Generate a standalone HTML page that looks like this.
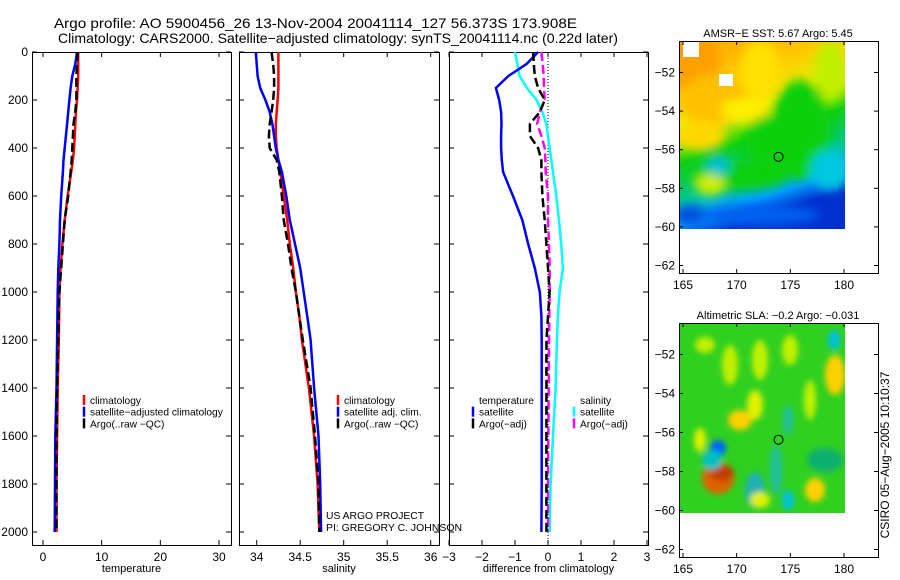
<!DOCTYPE html>
<html><head><meta charset="utf-8"><style>
body{margin:0;background:#fff;}
svg{display:block;font-family:"Liberation Sans",sans-serif;}
</style></head><body>
<svg id="fig" width="900" height="580" viewBox="0 0 900 580">
<defs>
<filter id="blur4" x="-50%" y="-50%" width="200%" height="200%"><feGaussianBlur stdDeviation="5"/></filter>
<filter id="blur2" x="-50%" y="-50%" width="200%" height="200%"><feGaussianBlur stdDeviation="3"/></filter>
<clipPath id="clipM1"><rect x="679" y="41" width="166" height="188"/></clipPath>
<clipPath id="clipM2"><rect x="679" y="323" width="166" height="190"/></clipPath>
<linearGradient id="sstg" x1="0" y1="0" x2="0.3" y2="1">
<stop offset="0" stop-color="#ffa000"/><stop offset="0.25" stop-color="#ffc800"/><stop offset="0.45" stop-color="#e8f000"/><stop offset="0.6" stop-color="#10d010"/><stop offset="0.78" stop-color="#00c890"/><stop offset="0.9" stop-color="#00a0ff"/><stop offset="1" stop-color="#0030d0"/>
</linearGradient>
</defs>
<text x="54" y="28" font-size="14" textLength="523" lengthAdjust="spacingAndGlyphs">Argo profile: AO 5900456_26 13-Nov-2004 20041114_127 56.373S 173.908E</text>
<text x="58" y="43" font-size="14" textLength="560" lengthAdjust="spacingAndGlyphs">Climatology: CARS2000. Satellite−adjusted climatology: synTS_20041114.nc (0.22d later)</text>
<g id="charts"></g>
<g id="maps"></g>
<text transform="translate(889,455) rotate(-90)" font-size="12" text-anchor="middle">CSIRO 05−Aug−2005 10:10:37</text>
</svg>
<script>
const depths=[0,50,100,150,200,250,300,350,400,450,500,600,700,800,900,1000,1100,1200,1400,1600,1800,2000];
const tempClim=[6.0,6.0,6.0,5.9,5.8,5.6,5.5,5.4,5.3,5.1,4.8,4.2,3.7,3.3,3.0,2.8,2.75,2.7,2.5,2.4,2.3,2.3];
const tempSat=[5.8,5.5,5.0,4.7,4.5,4.3,4.1,3.9,3.7,3.5,3.4,3.1,2.9,2.8,2.6,2.5,2.45,2.4,2.3,2.1,2.05,2.0];
const tempArgo=[5.9,5.8,5.7,5.7,5.7,5.5,5.2,5.1,5.0,4.9,4.7,4.3,3.7,3.4,3.1,2.8,2.7,2.6,2.4,2.3,2.3,2.3];
const salClim=[34.25,34.25,34.25,34.25,34.24,34.23,34.22,34.22,34.23,34.25,34.27,34.31,34.35,34.38,34.42,34.45,34.49,34.52,34.6,34.66,34.7,34.72];
const salSat=[33.99,34.0,34.01,34.04,34.1,34.15,34.18,34.2,34.22,34.25,34.29,34.34,34.38,34.44,34.5,34.54,34.58,34.62,34.66,34.71,34.73,34.74];
const salArgo=[34.17,34.19,34.2,34.2,34.19,34.17,34.15,34.14,34.15,34.23,34.26,34.29,34.31,34.36,34.4,34.45,34.49,34.53,34.62,34.67,34.71,34.72];
const dTempSat=[-0.3,-0.65,-1.2,-1.58,-1.48,-1.42,-1.41,-1.42,-1.42,-1.4,-1.36,-1.06,-0.78,-0.6,-0.4,-0.25,-0.2,-0.19,-0.19,-0.19,-0.19,-0.2];
const dTempArgo=[-0.45,-0.43,-0.4,-0.3,-0.1,-0.25,-0.55,-0.55,-0.3,-0.2,-0.2,-0.17,-0.1,-0.05,0,0.05,0,-0.05,-0.05,-0.05,-0.05,-0.05];
const dSalSat=[-1.0,-0.93,-0.86,-0.64,-0.35,-0.17,-0.05,0,0.05,0.1,0.15,0.25,0.33,0.4,0.45,0.35,0.3,0.27,0.23,0.15,0.08,0.05];
const dSalArgo=[-0.2,-0.16,-0.13,-0.12,-0.1,-0.25,-0.33,-0.2,-0.1,-0.08,-0.07,0,0,0.03,0.05,0.05,0.04,0.03,0.02,0.01,0,0];
const depthTicks=[0,200,400,600,800,1000,1200,1400,1600,1800,2000];
const tempTicks=[0,10,20,30];
const salTicks=[34,34.5,35,35.5,36];
const diffTicks=[-3,-2,-1,0,1,2,3];
const lonTicks=[165,170,175,180];
const latTicks=[-52,-54,-56,-58,-60,-62];

const NS='http://www.w3.org/2000/svg';
function mk(tag,attrs,parent){const e=document.createElementNS(NS,tag);for(const k in attrs)e.setAttribute(k,attrs[k]);parent.appendChild(e);return e;}
const charts=document.getElementById('charts');
const yTop=52,yBot=545;
function yD(d){return 52+d*0.24;}

function buildPanel(name,fx0,fx1,ax0,ax1,dmin,dmax,ticks,tickFmt,label,showDepthLabels){
  const g=mk('g',{},charts);
  
  
  const xs=v=>ax0+(v-dmin)/(dmax-dmin)*(ax1-ax0);
  const fr=mk('rect',{x:fx0+0.5,y:yTop+0.5,width:fx1-fx0,height:yBot-yTop,fill:'none',stroke:'#000','stroke-width':1},g);
  
  
  ticks.forEach(t=>{
    const x=xs(t);
    mk('line',{x1:x,x2:x,y1:yBot,y2:yBot-5,stroke:'#000'},g);
    mk('line',{x1:x,x2:x,y1:yTop,y2:yTop+5,stroke:'#000'},g);
    const tl=mk('text',{x:x,y:yBot+16,'font-size':12,'text-anchor':'middle'},g);
    tl.textContent=tickFmt(t);
    
    
  });
  depthTicks.forEach(d=>{
    const y=yD(d);
    mk('line',{x1:fx0,x2:fx0+5,y1:y,y2:y,stroke:'#000'},g);
    mk('line',{x1:fx1,x2:fx1-5,y1:y,y2:y,stroke:'#000'},g);
    if(showDepthLabels){
      const tl=mk('text',{x:fx0-4,y:y+4,'font-size':12,'text-anchor':'end'},g);
      tl.textContent=d;
      
      
    }
  });
  const xl=mk('text',{x:(fx0+fx1)/2,y:572,'font-size':11,'text-anchor':'middle'},g);
  xl.textContent=label;
  
  
  return {g,xs};
}
function series(p,vals,color,dash,name,w){
  const pts=vals.map((v,i)=>p.xs(v).toFixed(1)+','+yD(depths[i]).toFixed(1)).join(' ');
  const l=mk('polyline',{points:pts,fill:'none',stroke:color,'stroke-width':w||2.5},p.g);
  if(dash)l.setAttribute('stroke-dasharray',dash);
  
  
}
function legend(p,x,y,items,name){
  const g=mk('g',{},p.g);
  
  
  items.forEach((it,i)=>{
    const yy=y+i*11.7;
    if(it[1]){mk('line',{x1:x,x2:x,y1:yy-9,y2:yy+1,stroke:it[1],'stroke-width':2.5},g);}
    const t=mk('text',{x:x+6,y:yy,'font-size':10.2},g);
    t.textContent=it[0];
    
    
  });
}
const p1=buildPanel('temperature-panel',32,231,43,219,0,30,tempTicks,t=>t,'temperature',true);
series(p1,tempClim,'#ff0000',null,'temperature-climatology-line');
series(p1,tempSat,'#0000ff',null,'temperature-satellite-line');
series(p1,tempArgo,'#000000','9,4','temperature-argo-line');
legend(p1,84,404,[['climatology','#ff0000'],['satellite−adjusted climatology','#0000ff'],['Argo(..raw −QC)','#000']],'temperature-legend');
const p2=buildPanel('salinity-panel',239,439,256.7,430.7,34,36,salTicks,t=>t,'salinity',false);
series(p2,salClim,'#ff0000',null,'salinity-climatology-line');
series(p2,salSat,'#0000ff',null,'salinity-satellite-line');
series(p2,salArgo,'#000000','9,4','salinity-argo-line');
legend(p2,338,404,[['climatology','#ff0000'],['satellite adj. clim.','#0000ff'],['Argo(..raw −QC)','#000']],'salinity-legend');
const pr=mk('text',{x:326,y:519,'font-size':10.5,textLength:98,lengthAdjust:'spacingAndGlyphs'},p2.g);pr.textContent='US ARGO PROJECT';


const pi=mk('text',{x:326,y:531,'font-size':10.5,textLength:136,lengthAdjust:'spacingAndGlyphs'},p2.g);pi.textContent='PI: GREGORY C. JOHNSON';


const p3=buildPanel('difference-panel',449,648,449,647,-3,3,diffTicks,t=>(t<0?'−'+(-t):t),'difference from climatology',false);
const zl=mk('line',{x1:p3.xs(0),x2:p3.xs(0),y1:yTop,y2:yBot,stroke:'#000','stroke-dasharray':'1,2'},p3.g);


series(p3,dSalSat,'#00ffff',null,'salinity-satellite-diff-line');
series(p3,dTempSat,'#0000ff',null,'temperature-satellite-diff-line');
series(p3,dSalArgo,'#ff00ff','9,4','salinity-argo-diff-line');
series(p3,dTempArgo,'#000000','9,4','temperature-argo-diff-line');
legend(p3,473,404,[['temperature',null],['satellite','#0000ff'],['Argo(−adj)','#000']],'temperature-diff-legend');
legend(p3,574,404,[['salinity',null],['satellite','#00ffff'],['Argo(−adj)','#ff00ff']],'salinity-diff-legend');

const maps=document.getElementById('maps');
function mapFrame(name,top,bot,title,drawFn,clip){
  const g=mk('g',{},maps);
  
  
  const lx=v=>683+(v-165)/15*161;
  const ly=v=>top+31.5+(-52-v)/10*(bot-top-39);
  const ig=mk('g',{'clip-path':'url(#'+clip+')'},g);
  drawFn(ig);
  mk('rect',{x:679.5,y:top+0.5,width:199,height:bot-top,fill:'none',stroke:'#000'},g);
  lonTicks.forEach(v=>{const x=lx(v);
    mk('line',{x1:x,x2:x,y1:bot,y2:bot-4,stroke:'#000'},g);
    mk('line',{x1:x,x2:x,y1:top,y2:top+4,stroke:'#000'},g);
    const t=mk('text',{x:x,y:bot+16,'font-size':12,'text-anchor':'middle'},g);t.textContent=v;
    
    });
  latTicks.forEach(v=>{const y=ly(v);
    mk('line',{x1:679,x2:683,y1:y,y2:y,stroke:'#000'},g);
    mk('line',{x1:878,x2:874,y1:y,y2:y,stroke:'#000'},g);
    const t=mk('text',{x:675,y:y+4,'font-size':12,'text-anchor':'end'},g);t.textContent='−'+(-v);
    
    });
  const tt=mk('text',{x:778,y:top-4,'font-size':11,'text-anchor':'middle'},g);tt.textContent=title;
  
  
  const c=mk('circle',{cx:lx(173.9),cy:ly(-56.37),r:4.5,fill:'none',stroke:'#000'},g);
  
  
  return g;
}
mapFrame('sst-map',41,273,'AMSR−E SST: 5.67 Argo: 5.45',g=>{
  mk('rect',{x:679,y:41,width:166,height:188,fill:'url(#sstg)'},g);
  const b=mk('g',{filter:'url(#blur4)'},g);
  [[690,60,30,30,'#ffa000'],[715,100,35,25,'#ffc000'],[700,135,25,15,'#ffd800'],[760,70,20,30,'#ffe000'],[745,110,25,12,'#ffee00'],[800,130,30,50,'#10d010'],[830,70,16,30,'#c0f000'],[770,140,25,25,'#10d010'],[740,175,50,15,'#10d010'],[718,165,12,10,'#00c0d0'],[710,185,15,10,'#d0f000'],[830,170,20,20,'#00c8e0'],[760,215,60,10,'#0060f0'],[690,215,15,10,'#0050e0']].forEach(e=>mk('ellipse',{cx:e[0],cy:e[1],rx:e[2],ry:e[3],fill:e[4]},b));
  mk('rect',{x:683,y:41,width:16,height:16,fill:'#fff'},g);
  mk('rect',{x:719,y:74,width:14,height:12,fill:'#fff'},g);
  mk('rect',{x:679,y:229,width:200,height:50,fill:'#fff'},g);
},'clipM1');
mapFrame('sla-map',323,557,'Altimetric SLA: −0.2 Argo: −0.031',g=>{
  mk('rect',{x:679,y:323,width:166,height:190,fill:'#30d020'},g);
  const b=mk('g',{filter:'url(#blur2)'},g);
  [[740,420,12,10,'#ffd000'],[755,405,8,15,'#e0f000'],[835,375,10,20,'#ffd000'],[718,478,16,16,'#e06000'],[722,473,12,8,'#c04000'],[718,448,8,8,'#0060ff'],[712,460,10,10,'#00c0c0'],[755,490,10,18,'#20b0b0'],[776,470,6,25,'#20c0a0'],[788,420,5,15,'#20c0a0'],[788,500,6,10,'#00c0e0'],[834,340,6,10,'#00c0e0'],[705,345,10,8,'#c0f000'],[730,365,8,20,'#c0f000'],[760,360,8,20,'#c0f000'],[790,350,8,15,'#c0f000'],[815,490,10,12,'#ffd000'],[825,460,18,12,'#10b070'],[700,440,6,12,'#e0f000'],[810,400,6,20,'#c0f000'],[760,500,10,8,'#e0f000']].forEach(e=>mk('ellipse',{cx:e[0],cy:e[1],rx:e[2],ry:e[3],fill:e[4]},b));
  mk('rect',{x:679,y:513,width:200,height:50,fill:'#fff'},g);
},'clipM2');
</script>
</body></html>
